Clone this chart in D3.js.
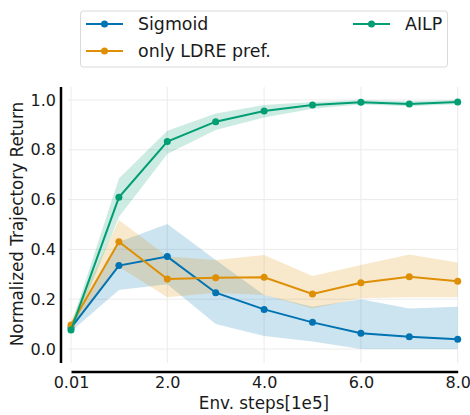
<!DOCTYPE html>
<html>
<head>
<meta charset="utf-8">
<script src="https://cdn.jsdelivr.net/npm/d3@7"></script>
<style>
  body { margin: 0; background: #fff; }
  text { font-family: "DejaVu Sans", sans-serif; fill: #1a1a1a; }
</style>
</head>
<body>
<div id="chart"></div>
<script>
var steps = [0.01, 1, 2, 3, 4, 5, 6, 7, 8];
var xTicks = [0.01, 2, 4, 6, 8];
var xTickLabels = ["0.01", "2.0", "4.0", "6.0", "8.0"];
var yTicks = [0, 0.2, 0.4, 0.6, 0.8, 1.0];

var seriesNames = ["Sigmoid", "only LDRE pref.", "AILP"];
var seriesColors = ["#0173b2", "#de8f05", "#029e73"];

var sigmoidMean = [0.085, 0.335, 0.371, 0.226, 0.159, 0.107, 0.063, 0.049, 0.039];
var sigmoidLow  = [0.07, 0.237, 0.26, 0.10, 0.052, 0.03, 0.0, 0.0, 0.0];
var sigmoidHigh = [0.10, 0.43, 0.502, 0.357, 0.217, 0.17, 0.20, 0.163, 0.17];

var ldreMean = [0.096, 0.431, 0.281, 0.286, 0.288, 0.221, 0.266, 0.29, 0.272];
var ldreLow  = [0.08, 0.33, 0.208, 0.226, 0.217, 0.163, 0.204, 0.208, 0.208];
var ldreHigh = [0.115, 0.518, 0.371, 0.357, 0.378, 0.293, 0.337, 0.38, 0.347];

var ailpMean = [0.076, 0.609, 0.833, 0.913, 0.956, 0.980, 0.991, 0.984, 0.992];
var ailpLow  = [0.06, 0.53, 0.783, 0.88, 0.93, 0.965, 0.982, 0.975, 0.983];
var ailpHigh = [0.095, 0.685, 0.877, 0.946, 0.98, 0.992, 1.0, 0.995, 1.0];

var allMeans = [sigmoidMean, ldreMean, ailpMean];
var allLows = [sigmoidLow, ldreLow, ailpLow];
var allHighs = [sigmoidHigh, ldreHigh, ailpHigh];

var svgWidth = 470;
var svgHeight = 415;

var svg = d3.select("#chart")
  .append("svg")
  .attr("width", svgWidth)
  .attr("height", svgHeight);

// plot area
var area = { left: 68, right: 458, top: 87, bottom: 363 };

var xScale = d3.scaleLinear()
  .domain([0.01, 8])
  .range([71, 457.7]);

var yScale = d3.scaleLinear()
  .domain([0, 1])
  .range([349, 100]);

// grid
var grid = svg.append("g");
grid.selectAll(".vgrid").data(xTicks).enter()
  .append("line")
  .attr("x1", d => xScale(d))
  .attr("x2", d => xScale(d))
  .attr("y1", area.top)
  .attr("y2", area.bottom)
  .attr("stroke", "#ebebeb")
  .attr("stroke-width", 1);
grid.selectAll(".hgrid").data(yTicks).enter()
  .append("line")
  .attr("x1", area.left)
  .attr("x2", area.right)
  .attr("y1", d => yScale(d))
  .attr("y2", d => yScale(d))
  .attr("stroke", "#ebebeb")
  .attr("stroke-width", 1);

// bands and lines
var band = d3.area()
  .x(d => xScale(d.x))
  .y0(d => yScale(d.lo))
  .y1(d => yScale(d.hi));

var line = d3.line()
  .x(d => xScale(d.x))
  .y(d => yScale(d.y));

seriesNames.forEach(function(name, i) {
  var pts = steps.map(function(s, j) {
    return { x: s, y: allMeans[i][j], lo: allLows[i][j], hi: allHighs[i][j] };
  });
  svg.append("path")
    .datum(pts)
    .attr("d", band)
    .attr("fill", seriesColors[i])
    .attr("fill-opacity", 0.2);
});

seriesNames.forEach(function(name, i) {
  var pts = steps.map(function(s, j) {
    return { x: s, y: allMeans[i][j] };
  });
  svg.append("path")
    .datum(pts)
    .attr("d", line)
    .attr("fill", "none")
    .attr("stroke", seriesColors[i])
    .attr("stroke-width", 2);
  svg.append("g").selectAll("circle").data(pts).enter()
    .append("circle")
    .attr("cx", d => xScale(d.x))
    .attr("cy", d => yScale(d.y))
    .attr("r", 3.5)
    .attr("fill", seriesColors[i]);
});

// axes (offset spines)
var bottomAxis = d3.axisBottom(xScale)
  .tickValues(xTicks)
  .tickFormat((d, i) => xTickLabels[i])
  .tickSize(0)
  .tickPadding(5);

var xAxisG = svg.append("g")
  .attr("transform", "translate(0, 371.5)")
  .call(bottomAxis);
xAxisG.select(".domain").attr("stroke", "#000").attr("stroke-width", 2.5);
xAxisG.selectAll("text").attr("font-size", 16).attr("font-family", "DejaVu Sans").attr("fill", "#1a1a1a");

var leftAxis = d3.axisLeft(yScale)
  .tickValues(yTicks)
  .tickFormat(d3.format(".1f"))
  .tickSize(0)
  .tickPadding(5);

var yAxisG = svg.append("g")
  .attr("transform", "translate(61, 0)")
  .call(leftAxis);
yAxisG.select(".domain")
  .attr("d", "M0," + area.top + "V" + area.bottom)
  .attr("stroke", "#000").attr("stroke-width", 2.5);
yAxisG.selectAll("text").attr("font-size", 16).attr("font-family", "DejaVu Sans").attr("fill", "#1a1a1a");

// axis titles
svg.append("text")
  .attr("transform", "translate(23, 224) rotate(-90)")
  .attr("text-anchor", "middle")
  .attr("font-size", 16.8)
  .text("Normalized Trajectory Return");

svg.append("text")
  .attr("x", 264)
  .attr("y", 409)
  .attr("text-anchor", "middle")
  .attr("font-size", 16.8)
  .text("Env. steps[1e5]");

// legend
var legend = svg.append("g");
legend.append("rect")
  .attr("x", 80.5)
  .attr("y", 11)
  .attr("width", 367)
  .attr("height", 56)
  .attr("rx", 3)
  .attr("fill", "#fff")
  .attr("fill-opacity", 0.8)
  .attr("stroke", "#d9d9d9");

var legendPos = [
  { x: 86, y: 24 },
  { x: 86, y: 51 },
  { x: 353, y: 24 }
];

seriesNames.forEach(function(name, i) {
  var p = legendPos[i];
  legend.append("line")
    .attr("x1", p.x).attr("x2", p.x + 37)
    .attr("y1", p.y).attr("y2", p.y)
    .attr("stroke", seriesColors[i])
    .attr("stroke-width", 2);
  legend.append("circle")
    .attr("cx", p.x + 18.5).attr("cy", p.y)
    .attr("r", 3.5)
    .attr("fill", seriesColors[i]);
  legend.append("text")
    .attr("x", p.x + 52)
    .attr("y", p.y)
    .attr("dy", "0.35em")
    .attr("font-size", 17.4)
    .text(name);
});
</script>
</body>
</html>
